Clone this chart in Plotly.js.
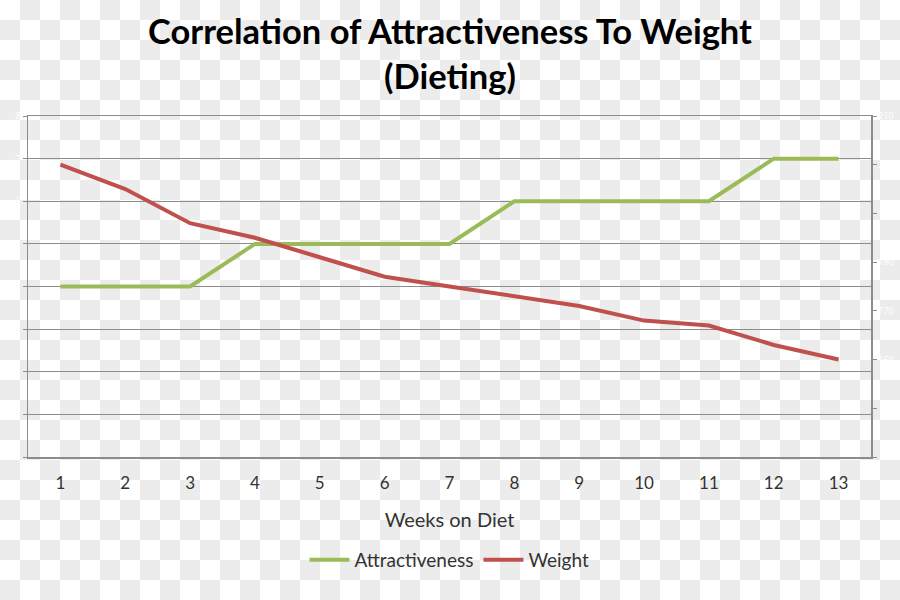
<!DOCTYPE html>
<html>
<head>
<meta charset="utf-8">
<script src="https://cdn.plot.ly/plotly-3.0.1.min.js"></script>
<style>
html,body{margin:0;padding:0;}
body{width:900px;height:600px;background:repeating-conic-gradient(#ececec 0 25%, #ffffff 0 50%) 0 0/40px 40px;}
#chart{width:900px;height:600px;}
</style>
</head>
<body>
<div id="chart"></div>
<script>
var weeks = [1,2,3,4,5,6,7,8,9,10,11,12,13];
var attractiveness = [4,4,4,5,5,5,5,6,6,6,6,7,7];
var weight = [200,195,188,185,181,177,175,173,171,168,167,163,160];
var weekTicks = ['1','2','3','4','5','6','7','8','9','10','11','12','13'];

var traces = [
  {x: weeks, y: attractiveness, name: 'Attractiveness', type: 'scatter', mode: 'lines',
   line: {color: '#9bbb59', width: 4}, yaxis: 'y'},
  {x: weeks, y: weight, name: 'Weight', type: 'scatter', mode: 'lines',
   line: {color: '#c0504d', width: 4}, yaxis: 'y2'}
];

var font = 'Lato, "Open Sans", sans-serif';
var layout = {
  width: 900, height: 600,
  paper_bgcolor: 'rgba(0,0,0,0)', plot_bgcolor: 'rgba(0,0,0,0)',
  margin: {l: 28, r: 29, t: 116, b: 143},
  title: {text: '<b>Correlation of Attractiveness To Weight<br>(Dieting)</b>',
          font: {family: font, size: 34.5, color: '#000'}, x: 0.5, xanchor: 'center', y: 0.926, yanchor: 'top'},
  showlegend: true,
  legend: {orientation: 'h', x: 0.5, xanchor: 'center', y: -0.302, yanchor: 'middle', itemwidth: 40,
           font: {family: font, size: 19, color: '#333'}, bgcolor: 'rgba(0,0,0,0)'},
  xaxis: {range: [0.5, 13.5], tickvals: weeks, ticktext: weekTicks, showgrid: false, zeroline: false,
          showline: true, linecolor: '#8c8c8c', linewidth: 1.5, mirror: true, ticks: '',
          ticklabelstandoff: 10, tickfont: {family: font, size: 17, color: '#333'},
          title: {text: 'Weeks on Diet', font: {family: font, size: 20, color: '#333'}, standoff: 21}},
  yaxis: {range: [0, 8], dtick: 1, showgrid: true, gridcolor: '#8c8c8c', gridwidth: 1.2, zeroline: false,
          showline: true, linecolor: '#8c8c8c', linewidth: 1.5, ticks: 'outside', ticklen: 4, tickcolor: '#8c8c8c',
          tickfont: {size: 9, color: '#ffffff'}},
  yaxis2: {range: [140, 210], dtick: 10, overlaying: 'y', side: 'right', showgrid: false, zeroline: false,
           showline: true, linecolor: '#8c8c8c', linewidth: 1.5, ticks: 'outside', ticklen: 4, tickcolor: '#8c8c8c',
           tickfont: {size: 9, color: '#ffffff'}}
};

Plotly.newPlot('chart', traces, layout, {displayModeBar: false, staticPlot: true});
</script>
</body>
</html>
